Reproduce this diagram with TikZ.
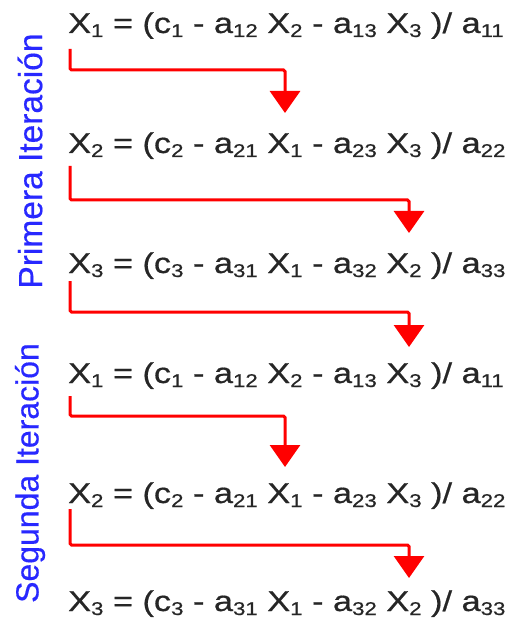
\documentclass[tikz,border=0pt]{standalone}
\usepackage{fontspec}
\setmainfont{Liberation Sans}
\newfontfamily\eqfont[FakeStretch=1.2,FakeBold=0.6]{Liberation Sans}
\newfontfamily\labfont[FakeBold=0.4]{Liberation Sans}
\usetikzlibrary{arrows.meta}
\newcommand{\subs}[1]{\raisebox{-4pt}{\fontsize{18.5}{20}\selectfont #1}}
\tikzset{
  eqn/.style={anchor=base west, inner sep=0pt, font=\eqfont\fontsize{28.6}{30}\selectfont, text=black!85},
  lab/.style={rotate=90, inner sep=0pt, font=\labfont\fontsize{33.5}{35}\selectfont, text={rgb,255:red,40;green,40;blue,255}},
  redarrow/.style={draw=red, line width=3pt, rounded corners=1.5pt, -{Triangle[length=22pt,width=30pt]}}
}
\begin{document}
\begin{tikzpicture}[x=1pt,y=-1pt]
\useasboundingbox (0,0) rectangle (511,620);
\node[eqn] (eq1) at (68,33)  {X\subs{1} = (c\subs{1} - a\subs{12} X\subs{2} - a\subs{13} X\subs{3} )/ a\subs{11}};
\node[eqn] (eq2) at (68,153) {X\subs{2} = (c\subs{2} - a\subs{21} X\subs{1} - a\subs{23} X\subs{3} )/ a\subs{22}};
\node[eqn] (eq3) at (68,273) {X\subs{3} = (c\subs{3} - a\subs{31} X\subs{1} - a\subs{32} X\subs{2} )/ a\subs{33}};
\node[eqn] (eq4) at (68,383) {X\subs{1} = (c\subs{1} - a\subs{12} X\subs{2} - a\subs{13} X\subs{3} )/ a\subs{11}};
\node[eqn] (eq5) at (68,503) {X\subs{2} = (c\subs{2} - a\subs{21} X\subs{1} - a\subs{23} X\subs{3} )/ a\subs{22}};
\node[eqn] (eq6) at (68,611) {X\subs{3} = (c\subs{3} - a\subs{31} X\subs{1} - a\subs{32} X\subs{2} )/ a\subs{33}};
\node[lab] (l1) at (30,161) {Primera Iteración};
\node[lab, font=\labfont\fontsize{32}{34}\selectfont] (l2) at (30,473) {Segunda Iteración};
% arrow end points
\coordinate (s1) at (70,49);  \coordinate (t1) at (285,113);
\coordinate (s2) at (70,166); \coordinate (t2) at (409,233);
\coordinate (s3) at (70,281); \coordinate (t3) at (409,347);
\coordinate (s4) at (70,396); \coordinate (t4) at (285,467);
\coordinate (s5) at (70,509); \coordinate (t5) at (409,578);
\draw[redarrow] (s1) |- (285,70)  -- (t1);
\draw[redarrow] (s2) |- (409,200) -- (t2);
\draw[redarrow] (s3) |- (409,312) -- (t3);
\draw[redarrow] (s4) |- (285,416) -- (t4);
\draw[redarrow] (s5) |- (409,545) -- (t5);
\end{tikzpicture}
\end{document}
